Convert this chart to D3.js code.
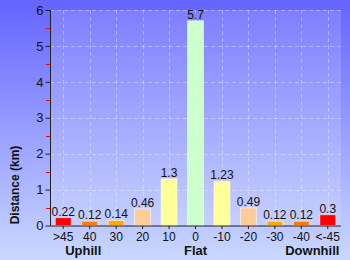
<!DOCTYPE html>
<html><head><meta charset="utf-8">
<script src="https://cdn.jsdelivr.net/npm/d3@7"></script>
<style>html,body{margin:0;padding:0;overflow:hidden}svg{display:block}</style>
</head><body>
<svg id="c" width="350" height="260"></svg>
<script>
const categories = [">45","40","30","20","10","0","-10","-20","-30","-40","<-45"];
const values = [0.22,0.12,0.14,0.46,1.3,5.7,1.23,0.49,0.12,0.12,0.3];
const barColors = ["#ff0000","#ff7a00","#ffaa00","#ffcc99","#ffff99","#ccffcc","#ffff99","#ffcc99","#ffaa00","#ff7a00","#ff0000"];
const yTicks = [0,1,2,3,4,5,6];
const groupLabels = ["Uphill","Flat","Downhill"];
const groupAt = [">45","0","-40"];

const FONT = "Liberation Sans, Arial, sans-serif";
const svg = d3.select("#c");
const W=350,H=260, L=50,R=341,T=10,B=225.5;
const defs = svg.append("defs");
const g1 = defs.append("linearGradient").attr("id","bg").attr("x1",0).attr("y1",0).attr("x2",0).attr("y2",1);
g1.append("stop").attr("offset","0%").attr("stop-color","#6464ff");
g1.append("stop").attr("offset","100%").attr("stop-color","#cad8ff");
svg.append("rect").attr("width",W).attr("height",H).attr("fill","url(#bg)");
svg.append("rect").attr("x",L).attr("y",T).attr("width",R-L).attr("height",B-T).attr("fill","#ffffff").attr("opacity",0.15);

const x = d3.scaleBand().domain(categories).range([L,R]).padding(0);
const y = d3.scaleLinear().domain([0,6]).range([B,T]);
const bw = x.bandwidth()*0.64;

// grid
svg.append("g").selectAll("line").data(yTicks.slice(1)).join("line")
  .attr("x1",L).attr("x2",R).attr("y1",d=>Math.round(y(d))+0.5).attr("y2",d=>Math.round(y(d))+0.5)
  .attr("stroke","#ffffff").attr("stroke-opacity",0.35).attr("stroke-dasharray","4,3");
svg.append("g").selectAll("line").data(categories).join("line")
  .attr("x1",d=>Math.round(x(d)+x.bandwidth()/2)+0.5).attr("x2",d=>Math.round(x(d)+x.bandwidth()/2)+0.5)
  .attr("y1",T).attr("y2",B)
  .attr("stroke","#ffffff").attr("stroke-opacity",0.35).attr("stroke-dasharray","4,3");

// bars
svg.append("g").selectAll("rect").data(values).join("rect")
  .attr("x",(d,i)=>x(categories[i])+x.bandwidth()/2-bw/2+0.5)
  .attr("y",d=>y(d)).attr("width",bw-1).attr("height",d=>B-y(d))
  .attr("fill",(d,i)=>barColors[i]).attr("stroke","#ffffff").attr("stroke-opacity",0.55).attr("stroke-width",1);

svg.append("g").selectAll("text").data(values).join("text")
  .attr("x",(d,i)=>x(categories[i])+x.bandwidth()/2).attr("y",d=>y(d)-2)
  .attr("text-anchor","middle").attr("font-family",FONT).attr("font-size",12).attr("fill","#111")
  .text(d=>String(d));

// y axis
const ya = svg.append("g").attr("transform",`translate(${L+0.5},0)`)
  .call(d3.axisLeft(y).tickValues(yTicks).tickSize(5).tickPadding(2).tickFormat(d3.format("d")));
ya.select(".domain").attr("stroke","#222").attr("d",`M0,${T}V${B}`);
ya.selectAll(".tick line").attr("stroke","#222");
ya.selectAll("text").attr("font-family",FONT).attr("font-size",13).attr("fill","#111");
svg.append("g").selectAll("line").data(yTicks.slice(0,-1).map(d=>d+0.5)).join("line")
  .attr("x1",L-4).attr("x2",L).attr("y1",d=>Math.round(y(d))+0.5).attr("y2",d=>Math.round(y(d))+0.5)
  .attr("stroke","#ff0000");

// x axis
const xa = svg.append("g").attr("transform",`translate(0,${B+0.5})`)
  .call(d3.axisBottom(x).tickSize(3).tickPadding(3));
xa.select(".domain").attr("stroke","#222").attr("d",`M${L},0H${R}`);
xa.selectAll(".tick line").attr("stroke","#222");
xa.selectAll("text").attr("font-family",FONT).attr("font-size",12).attr("fill","#111");

svg.append("g").selectAll("text").data(groupLabels).join("text")
  .attr("x",(d,i)=>{const c=x(groupAt[i])+x.bandwidth()/2; return i===0?c+20:(i===2?c+11:c);})
  .attr("y",255).attr("text-anchor","middle")
  .attr("font-family",FONT).attr("font-size",13).attr("font-weight","bold").attr("fill","#111")
  .text(d=>d);

svg.append("text").attr("transform","translate(19,185) rotate(-90)").attr("text-anchor","middle")
  .attr("font-family",FONT).attr("font-size",12).attr("font-weight","bold").attr("fill","#111")
  .text("Distance (km)");
</script>
</body></html>
